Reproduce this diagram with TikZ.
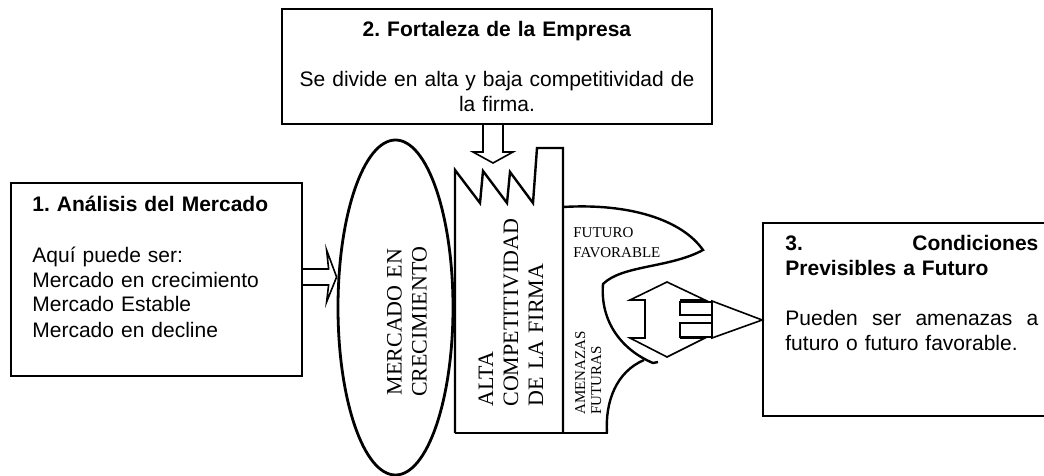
\documentclass[tikz,border=0pt]{standalone}
\usepackage{fontspec}
\setmainfont{Liberation Serif}
\setsansfont{Liberation Sans}
\usetikzlibrary{shapes.geometric,fit,calc}
\frenchspacing
\begin{document}
\begin{tikzpicture}[x=0.5pt,y=-0.5pt,
  box/.style={draw, line width=0.8pt, inner sep=0pt},
  sftxt/.style={font=\sffamily\fontsize{10.5}{12.5}\selectfont, inner sep=0pt},
  bigrm/.style={font=\rmfamily\fontsize{11}{12.5}\selectfont, inner sep=0pt},
  smrm/.style={font=\rmfamily\fontsize{7.5}{8}\selectfont, inner sep=0pt},
  blk/.style={draw, line width=0.8pt, line join=miter},
  shp/.style={draw, line width=1.2pt, line join=miter}]
\clip (0,0) rectangle (1044,476);
\fill[white] (0,0) rectangle (1044,476);

% boxes
\node[box, fit={(11,183) (302,376)}] (b1) {};
\node[box, fit={(282,9) (712,124)}] (b2) {};
\node[box, fit={(763,223) (1080,416)}] (b3) {};

\node[sftxt, anchor=base west, text width=130pt, align=left] (t1) at (32,212)
  {\textbf{1. Análisis del Mercado}\\[12.5pt] Aquí puede ser:\\ Mercado en crecimiento\\ Mercado Estable\\ Mercado en decline};
\node[sftxt, anchor=base, text width=215pt, align=center] (t2) at (497,37)
  {\textbf{2. Fortaleza de la Empresa}\\[12.5pt] Se divide en alta y baja competitividad de\\ la firma.};
\node[sftxt, anchor=base west, text width=126.5pt, align=left] (t3) at (785,250)
  {\textbf{3.}\hfill\textbf{Condiciones}\\ \textbf{Previsibles a Futuro}\\[12.5pt] Pueden\hfill ser\hfill amenazas\hfill a\\ futuro o futuro favorable.};

% ellipse
\node[ellipse, shp, line width=1.4pt, minimum width=57.5pt, minimum height=167.5pt, inner sep=0pt] (ell) at (395.5,307.5) {};
\node[bigrm, rotate=90, align=center, text width=80pt] (t5) at (407,322) {MERCADO EN\\ CRECIMIENTO};

% firm block with saw teeth and tower
\draw[shp] (455,433) -- (455,170) -- (480,203) -- (483,171) -- (507,203) -- (510,172) -- (533,203)
  -- (537,148) -- (563,148) -- (563,433);
\draw[shp] (455,433) -- (608,433);
\coordinate (fr) at (563,207);
\draw[shp] (fr) .. controls (630,203) and (682,220) .. (703,250)
  .. controls (670,268) and (622,265) .. (603,284)
  .. controls (600,322) and (622,350) .. (653,363) -- (658,362);
\draw[shp] (644,360) .. controls (616,372) and (605,402) .. (607,433);

\node[bigrm, rotate=90, anchor=base west, text width=100pt, align=left] (t4) at (493,407) {ALTA\\ COMPETITIVIDAD\\ DE LA FIRMA};
\node[smrm, font=\rmfamily\fontsize{7.5}{10}\selectfont, anchor=base west, text width=60pt, align=left] (t6) at (573,237) {FUTURO\\ FAVORABLE};
\node[smrm, rotate=90, anchor=base west, text width=50pt, align=left] (t7) at (585,415) {AMENAZAS\\ FUTURAS};

% arrow box1 -> ellipse
\coordinate (yA) at (0,277);
\coordinate (a1T) at (b1.east |- yA);
\coordinate (a1P) at (ell.west |- yA);
\draw[blk] ($(a1T)+(0,-8)$) -- ($(a1P)+(-8,-8)$) -- ($(a1P)+(-10,-27)$) -- (a1P)
  -- ($(a1P)+(-10,25)$) -- ($(a1P)+(-8,8)$) -- ($(a1T)+(0,8)$);

% arrow box2 -> firm
\coordinate (a2P) at (493,163);
\coordinate (a2T) at (b2.south -| a2P);
\draw[blk] ($(a2T)+(-10,0)$) -- ($(a2P)+(-10,-11)$) -- ($(a2P)+(-20,-11)$) -- (a2P)
  -- ($(a2P)+(20,-11)$) -- ($(a2P)+(10,-11)$) -- ($(a2T)+(10,0)$);

% up-down arrow and arrow to box3
\coordinate (ud) at (667,320);
\draw[blk] (680,300) -- (705,300) -- (667,282) -- (630,300) -- (645,300) -- (645,338)
  -- (630,338) -- (667,357) -- (705,338) -- (680,338);
\coordinate (a3P) at (b3.west |- ud);
\coordinate (a3T) at (680,320);
\draw[blk] ($(a3T)+(0,-18)$) rectangle ($(a3T)+(32,-5)$);
\draw[blk] ($(a3T)+(0,3)$) rectangle ($(a3T)+(32,17)$);
\draw[blk] ($(a3T)+(32,-19)$) -- (a3P) -- ($(a3T)+(32,18)$) -- cycle;
\end{tikzpicture}
\end{document}
